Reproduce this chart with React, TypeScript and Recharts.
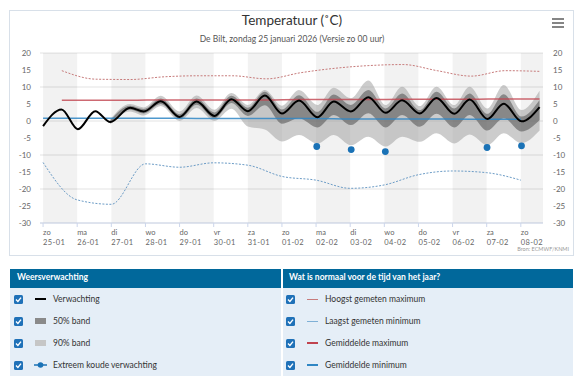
import React from 'react';
import { ComposedChart, Line, Area, Scatter, XAxis, YAxis, CartesianGrid, ReferenceArea } from 'recharts';

// ---------- data ----------
const dayNames = ['zo', 'ma', 'di', 'wo', 'do', 'vr', 'za', 'zo', 'ma', 'di', 'wo', 'do', 'vr', 'za', 'zo'];
const dateLabels = ['25-01', '26-01', '27-01', '28-01', '29-01', '30-01', '31-01', '01-02', '02-02', '03-02', '04-02', '05-02', '06-02', '07-02', '08-02'];
const dayTicks = [0, 1, 2, 3, 4, 5, 6, 7, 8, 9, 10, 11, 12, 13, 14];
const shadedDays = [0, 2, 4, 6, 8, 10, 12, 14];
const yTicks = [-30, -25, -20, -15, -10, -5, 0, 5, 10, 15, 20];

// forecast (Verwachting), time in days since 25-01 00:00
const fcTimes = [0, 0.54, 1.02, 1.53, 1.97, 2.55, 2.95, 3.45, 4.0, 4.5, 5.02, 5.52, 6.0, 6.5, 7.0, 7.5, 8.04, 8.52, 9.02, 9.53, 10.04, 10.52, 11.04, 11.53, 12.05, 12.5, 13.02, 13.5, 14.02, 14.55];
const fcValues = [-1.5, 3.4, -2.4, 2.9, -0.3, 3.9, 2.8, 5.8, 1.2, 5.7, 1.5, 6.4, 2.9, 7.5, 2.2, 6.0, 1.1, 5.7, 2.8, 7.0, 2.4, 6.1, 2.2, 6.8, 2.1, 6.3, 0.6, 5.1, -0.1, 4.1];

// bands
const bandTimes = [1.97, 2.55, 2.95, 3.45, 4.0, 4.5, 5.02, 5.52, 6.0, 6.5, 7.0, 7.5, 8.04, 8.52, 9.02, 9.53, 10.04, 10.52, 11.04, 11.53, 12.05, 12.5, 13.02, 13.5, 14.02, 14.55];
const band50Low = [-0.7, 3.3, 2.2, 5.0, 0.6, 4.8, 0.8, 5.3, 1.5, 4.6, -0.8, 0.8, -1.9, 1.8, -1.2, 2.3, -1.9, 1.8, -1.7, 2.1, -1.9, 1.8, -2.8, 0.8, -3.1, 0.3];
const band50High = [0.2, 4.5, 3.5, 6.6, 2.0, 6.6, 2.5, 7.4, 3.9, 8.6, 3.4, 7.6, 2.7, 7.8, 4.7, 9.1, 3.7, 8.1, 3.2, 8.6, 3.7, 8.1, 2.1, 7.9, 1.3, 6.2];
const band90Low = [-1.0, 2.8, 1.6, 4.4, 0.0, 3.8, 0.0, 3.6, -1.6, -2.5, -6.0, -4.1, -6.6, -4.1, -7.1, -4.6, -7.5, -4.6, -6.1, -3.6, -6.6, -4.0, -7.1, -3.6, -6.5, -2.8];
const band90High = [0.5, 5.0, 4.0, 7.4, 2.8, 7.5, 3.3, 8.2, 4.7, 9.1, 4.5, 9.1, 4.7, 9.8, 6.7, 11.9, 4.7, 10.1, 4.4, 10.1, 4.7, 10.1, 3.7, 10.6, 3.2, 8.9];

// extreme cold
const coldTimes = [8.02, 9.03, 10.03, 13.01, 14.02];
const coldValues = [-7.5, -8.4, -9.0, -7.8, -7.3];

// climate
const maxTimes = [0.55, 1.55, 2.55, 3.55, 4.55, 5.55, 6.55, 7.55, 8.55, 9.55, 10.55, 11.55, 12.55, 13.55, 14.55];
const hoogstMax = [14.8, 12.3, 12.2, 13.0, 13.3, 13.3, 12.4, 14.2, 15.5, 16.3, 16.6, 14.8, 13.2, 14.8, 14.6];
const gemMax = [6.1, 6.1, 6.1, 6.2, 6.2, 6.2, 6.2, 6.3, 6.3, 6.3, 6.4, 6.4, 6.4, 6.5, 6.5];
const minTimes = [0, 1, 2, 3, 4, 5, 6, 7, 8, 9, 10, 11, 12, 13, 14];
const laagstMin = [-12.2, -23.2, -24.5, -12.6, -13.6, -12.3, -13.0, -16.3, -17.4, -19.8, -18.8, -15.8, -14.7, -15.2, -17.4];
const gemMin = [0.8, 0.8, 0.8, 0.8, 0.8, 0.7, 0.7, 0.7, 0.7, 0.6, 0.6, 0.6, 0.6, 0.5, 0.5];

// ---------- derived tables ----------
const fcData = fcTimes.map((d, i) => ({ d, v: fcValues[i] }));
const b50Data = bandTimes.map((d, i) => ({ d, r: [band50Low[i], band50High[i]] }));
const b90Data = bandTimes.map((d, i) => ({ d, r: [band90Low[i], band90High[i]] }));
const coldData = coldTimes.map((d, i) => ({ d, v: coldValues[i] }));
const hoogstData = maxTimes.map((d, i) => ({ d, v: hoogstMax[i] }));
const gemMaxData = maxTimes.map((d, i) => ({ d, v: gemMax[i] }));
const laagstData = minTimes.map((d, i) => ({ d, v: laagstMin[i] }));
const gemMinData = minTimes.map((d, i) => ({ d, v: gemMin[i] }));

const X_MIN = -0.09;
const X_MAX = 14.65;
const FONT = 'Lato, "Open Sans", sans-serif';

const XTick = (props: any) => {
  const { x, y, payload } = props;
  const i = Math.round(payload.value);
  return (
    <g>
      <text x={x} y={y + 8} fill="#666" fontSize={7.5} fontFamily={FONT} textAnchor="start">{dayNames[i]}</text>
      <text x={x} y={y + 18} fill="#666" fontSize={7.5} fontFamily={FONT} textAnchor="start" letterSpacing={0.4}>{dateLabels[i]}</text>
    </g>
  );
};

const ColdDot = (props: any) => <circle cx={props.cx} cy={props.cy} r={3.4} fill="#1a72b6" />;

const Check = ({ x, y }: { x: number; y: number }) => (
  <div style={{ position: 'absolute', left: x, top: y, width: 9, height: 9, background: '#1f71b8', borderRadius: 1.5 }}>
    <svg width={9} height={9} style={{ position: 'absolute', left: 0, top: 0 }}>
      <path d="M2 4.6 L3.9 6.4 L7 2.6" stroke="#fff" strokeWidth={1.4} fill="none" />
    </svg>
  </div>
);

const leftRows = [
  { label: 'Verwachting', kind: 'line', color: '#000' },
  { label: '50% band', kind: 'rect', color: '#8a8a8a' },
  { label: '90% band', kind: 'rect', color: '#c6c6c6' },
  { label: 'Extreem koude verwachting', kind: 'dot', color: '#1a72b6' },
];
const rightRows = [
  { label: 'Hoogst gemeten maximum', kind: 'thin', color: '#c77b7b' },
  { label: 'Laagst gemeten minimum', kind: 'thin', color: '#7fb0d6' },
  { label: 'Gemiddelde maximum', kind: 'line', color: '#c0434f' },
  { label: 'Gemiddelde minimum', kind: 'line', color: '#2f86c4' },
];

const Symbol = ({ kind, color, x, y }: any) => {
  if (kind === 'rect') return <div style={{ position: 'absolute', left: x, top: y - 3, width: 11, height: 6, background: color }} />;
  if (kind === 'dot')
    return (
      <svg width={14} height={8} style={{ position: 'absolute', left: x - 1, top: y - 4 }}>
        <line x1={0} y1={4} x2={13} y2={4} stroke={color} strokeWidth={1.5} />
        <circle cx={6.5} cy={4} r={2.8} fill={color} />
      </svg>
    );
  return <div style={{ position: 'absolute', left: x, top: y - (kind === 'thin' ? 0.5 : 1), width: 11, height: kind === 'thin' ? 1 : 2, background: color }} />;
};

export default function App() {
  const rowY = [299, 321, 343, 365];
  return (
    <div style={{ position: 'absolute', left: 0, top: 0, width: 582, height: 376, background: '#fff', overflow: 'hidden', fontFamily: FONT }}>
      {/* card */}
      <div style={{ position: 'absolute', left: 9, top: 10, width: 563, height: 244, border: '1px solid #d8e0e9' }} />
      <div style={{ position: 'absolute', left: 0, top: 12, width: 584, textAlign: 'center', fontSize: 13.5, color: '#333' }}>Temperatuur (˚C)</div>
      <div style={{ position: 'absolute', left: 0, top: 34, width: 584, textAlign: 'center', fontSize: 8.5, color: '#555' }}>De Bilt, zondag 25 januari 2026 (Versie zo 00 uur)</div>
      <svg width={14} height={12} style={{ position: 'absolute', left: 551, top: 17 }}>
        <line x1={1} y1={2} x2={13} y2={2} stroke="#666" strokeWidth={1.6} />
        <line x1={1} y1={6} x2={13} y2={6} stroke="#666" strokeWidth={1.6} />
        <line x1={1} y1={10} x2={13} y2={10} stroke="#666" strokeWidth={1.6} />
      </svg>
      <div style={{ position: 'absolute', left: 0, top: 0 }}>
        <ComposedChart width={582} height={262} margin={{ top: 53, right: 10, bottom: 9, left: 10 }}>
          {shadedDays.map((d) => (
            <ReferenceArea key={d} x1={d} x2={Math.min(d + 1, X_MAX)} yAxisId="left" y1={-30} y2={20} fill="#000" fillOpacity={0.05} stroke="none" ifOverflow="extendDomain" />
          ))}
          <CartesianGrid vertical={false} stroke="#e3e3e3" yAxisId="left" />
          <XAxis dataKey="d" type="number" domain={[X_MIN, X_MAX]} ticks={dayTicks} allowDataOverflow height={30} tick={<XTick />} tickSize={4} tickMargin={0} stroke="#ccd6eb" interval={0} />
          <YAxis yAxisId="left" orientation="left" width={30} domain={[-30, 20]} ticks={yTicks} axisLine={false} tickLine={false} tickSize={0} tickMargin={9} tick={{ fill: '#666', fontSize: 8, fontFamily: FONT }} allowDataOverflow />
          <YAxis yAxisId="right" orientation="right" width={29} domain={[-30, 20]} ticks={yTicks} axisLine={false} tickLine={false} tickSize={0} tickMargin={10} tick={{ fill: '#666', fontSize: 8, fontFamily: FONT, textAnchor: 'start' }} allowDataOverflow />
          <Area yAxisId="left" data={b90Data} dataKey="r" type="monotone" stroke="none" fill="#9a9a9a" fillOpacity={0.5} isAnimationActive={false} />
          <Area yAxisId="left" data={b50Data} dataKey="r" type="monotone" stroke="none" fill="#555" fillOpacity={0.57} isAnimationActive={false} />
          <Line yAxisId="left" data={hoogstData} dataKey="v" type="monotone" stroke="#c77b7b" strokeWidth={1} strokeDasharray="2 1.5" dot={false} isAnimationActive={false} />
          <Line yAxisId="left" data={laagstData} dataKey="v" type="monotone" stroke="#6c9cc6" strokeWidth={1} strokeDasharray="2 1.5" dot={false} isAnimationActive={false} />
          <Line yAxisId="left" data={gemMaxData} dataKey="v" type="monotone" stroke="#c0434f" strokeWidth={1.5} strokeOpacity={0.8} dot={false} isAnimationActive={false} />
          <Line yAxisId="left" data={gemMinData} dataKey="v" type="monotone" stroke="#2f86c4" strokeWidth={1.5} strokeOpacity={0.85} dot={false} isAnimationActive={false} />
          <Line yAxisId="left" data={fcData} dataKey="v" type="monotone" stroke="#000" strokeWidth={2} dot={false} isAnimationActive={false} />
          <Scatter yAxisId="left" data={coldData} dataKey="v" shape={<ColdDot />} isAnimationActive={false} />
        </ComposedChart>
      </div>
      <div style={{ position: 'absolute', right: 13, top: 246, fontSize: 5.5, color: '#999' }}>Bron: ECMWF/KNMI</div>

      {/* legend table */}
      <div style={{ position: 'absolute', left: 10, top: 269, width: 271, height: 19, background: '#01689b' }} />
      <div style={{ position: 'absolute', left: 283, top: 269, width: 290, height: 19, background: '#01689b' }} />
      <div style={{ position: 'absolute', left: 17, top: 272, fontSize: 8.5, fontWeight: 700, color: '#fff' }}>Weersverwachting</div>
      <div style={{ position: 'absolute', left: 289, top: 272, fontSize: 8.5, fontWeight: 700, color: '#fff' }}>Wat is normaal voor de tijd van het jaar?</div>
      <div style={{ position: 'absolute', left: 10, top: 288, width: 271, height: 88, background: '#e5eef7' }} />
      <div style={{ position: 'absolute', left: 283, top: 288, width: 290, height: 88, background: '#e5eef7' }} />
      {leftRows.map((r, i) => (
        <React.Fragment key={'l' + i}>
          <Check x={14} y={rowY[i] - 4.5} />
          <Symbol kind={r.kind} color={r.color} x={35} y={rowY[i]} />
          <div style={{ position: 'absolute', left: 53, top: rowY[i] - 6, fontSize: 8.5, color: '#333', lineHeight: '12px' }}>{r.label}</div>
        </React.Fragment>
      ))}
      {rightRows.map((r, i) => (
        <React.Fragment key={'r' + i}>
          <Check x={286} y={rowY[i] - 4.5} />
          <Symbol kind={r.kind} color={r.color} x={307} y={rowY[i]} />
          <div style={{ position: 'absolute', left: 325, top: rowY[i] - 6, fontSize: 8.5, color: '#333', lineHeight: '12px' }}>{r.label}</div>
        </React.Fragment>
      ))}
    </div>
  );
}
